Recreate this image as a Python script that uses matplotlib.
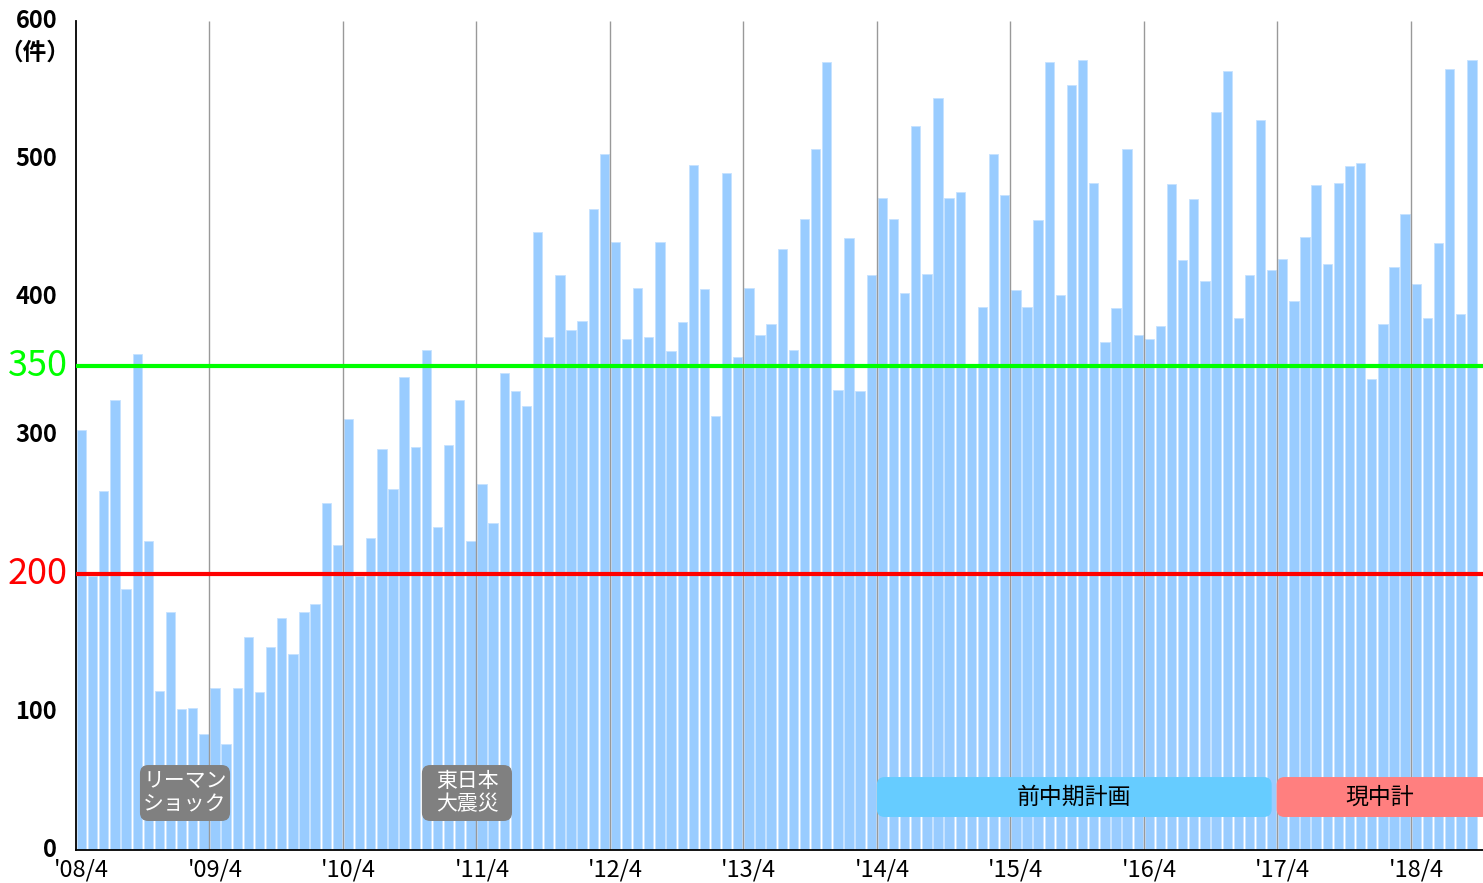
import matplotlib

matplotlib.use("Agg")
import matplotlib.pyplot as plt
import numpy as np
from matplotlib.patches import FancyBboxPatch

plt.rcParams["font.family"] = ["Noto Sans CJK JP", "DejaVu Sans"]

# monthly counts, '08/4 .. '18/9
counts = [
    304, 198, 260, 326, 189, 359, 224, 115, 172, 102, 103, 84,
    117, 77, 117, 154, 114, 147, 168, 142, 172, 178, 251, 221,
    312, 198, 226, 290, 261, 342, 292, 362, 234, 293, 326, 224,
    265, 237, 345, 332, 321, 447, 371, 416, 376, 383, 464, 504,
    440, 370, 407, 371, 440, 361, 382, 496, 406, 314, 490, 357,
    407, 373, 381, 435, 362, 457, 507, 570, 333, 443, 332, 416,
    472, 457, 403, 524, 417, 544, 472, 476, 350, 393, 504, 474,
    405, 393, 456, 570, 402, 554, 572, 483, 368, 392, 507, 373,
    370, 379, 482, 427, 471, 412, 534, 564, 385, 416, 528, 420,
    428, 397, 444, 481, 424, 483, 495, 497, 341, 381, 422, 460,
    410, 385, 439, 565, 388, 572,
]
year_labels = ["'08/4", "'09/4", "'10/4", "'11/4", "'12/4", "'13/4",
               "'14/4", "'15/4", "'16/4", "'17/4", "'18/4"]
y_labels = [0, 100, 300, 400, 500, 600]
thresholds = [(350, "#00FF00"), (200, "#FF0000")]

events = [("リーマン\nショック", 5.25, 13.35), ("東日本\n大震災", 30.6, 38.7)]
plans = [("前中期計画", 71.5, 107.0, "#66CCFF"), ("現中計", 107.45, 126.6, "#FF7F7F")]

fig = plt.figure(figsize=(14.83, 8.83), dpi=100)
ax = fig.add_axes([76 / 1483, 33 / 883, 1407 / 1483, 829 / 883])

x = np.arange(len(counts))
ax.bar(x, counts, width=0.84, color="#99CCFF", edgecolor="#C6E2FF",
       linewidth=0.6, zorder=2)

# year separators
ax.vlines(np.arange(11.5, len(counts), 12), 0, 600, color="#999999",
          linewidth=1, zorder=2.5)

for val, col in thresholds:
    ax.axhline(val, color=col, linewidth=3, zorder=3)

ax.set_xlim(-0.5, 126.0)
ax.set_ylim(0, 600)

ax.set_xticks(np.arange(0, len(counts), 12))
ax.set_xticklabels(year_labels, fontsize=17)
ax.tick_params(axis="x", length=0, pad=6)
ax.set_yticks([])

for s in ("top", "right"):
    ax.spines[s].set_visible(False)
ax.spines["left"].set_linewidth(1.3)
ax.spines["bottom"].set_linewidth(1.3)

ytr = ax.get_yaxis_transform()
for v in y_labels:
    ax.text(-0.0135, v, str(v), transform=ytr, ha="right", va="center",
            fontsize=17, fontweight="bold", color="black")
ax.text(-0.0295, 577, "（件）", transform=ytr, ha="center", va="center",
        fontsize=17, fontweight="bold", color="black")
for val, col in thresholds:
    ax.text(-0.006, val, str(val), transform=ytr, ha="right", va="center",
            fontsize=26, color=col)

# rounded label boxes (aspect corrected so corners look round)
aspect = (1407 / 126.5) / (829 / 600)
for txt, x0, x1 in events:
    box = FancyBboxPatch((x0, 21.0), x1 - x0, 40.5,
                         boxstyle="round,pad=0,rounding_size=0.75",
                         mutation_aspect=aspect, facecolor="#808080",
                         edgecolor="none", zorder=4)
    ax.add_patch(box)
    ax.text((x0 + x1) / 2, 41.5, txt, ha="center", va="center", fontsize=15,
            color="white", linespacing=1.05, zorder=5)

for txt, x0, x1, col in plans:
    box = FancyBboxPatch((x0, 23.9), x1 - x0, 28.9,
                         boxstyle="round,pad=0,rounding_size=0.7",
                         mutation_aspect=aspect, facecolor=col,
                         edgecolor="none", zorder=4, clip_on=True)
    ax.add_patch(box)
    ax.text((x0 + min(x1, 126.0)) / 2, 38.3, txt, ha="center", va="center",
            fontsize=16.5, color="black", zorder=5)

fig.savefig("out.png", dpi=100)
